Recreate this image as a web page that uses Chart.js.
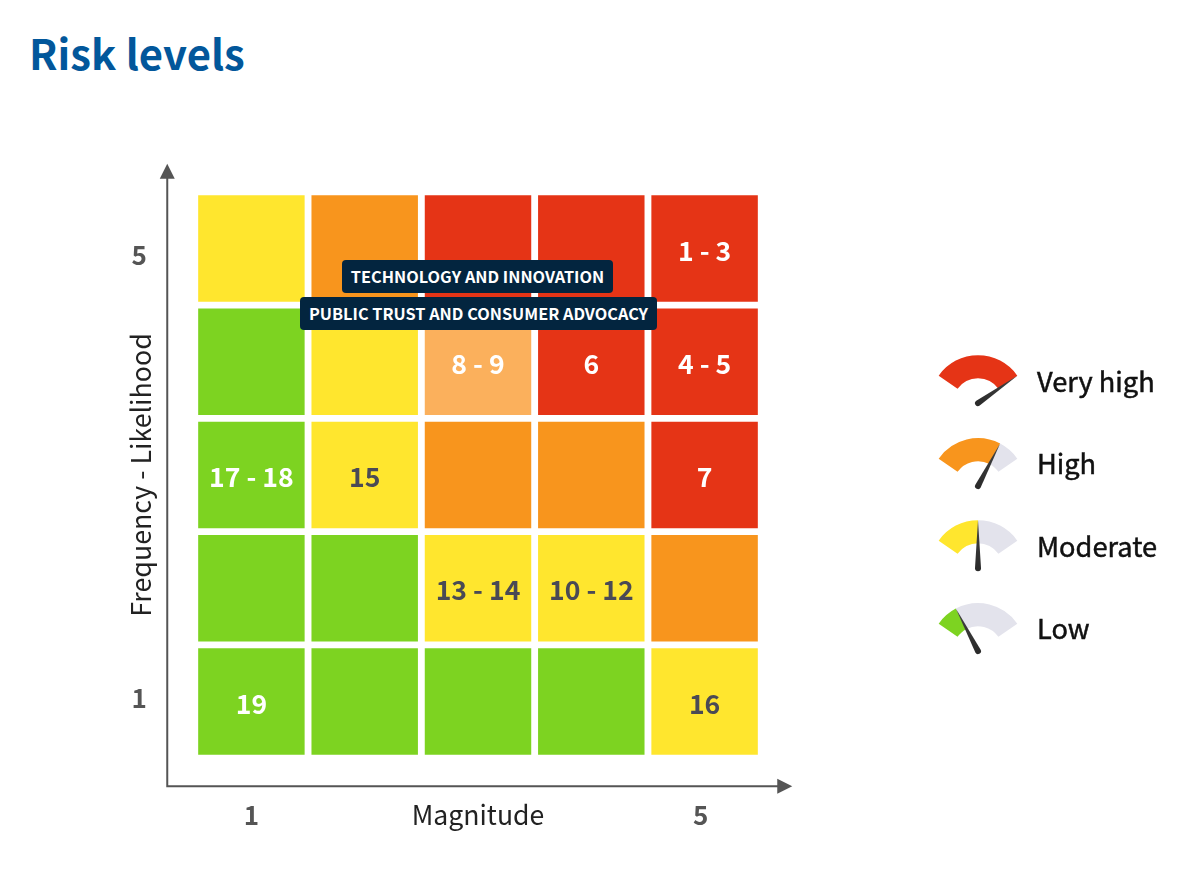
<!DOCTYPE html>
<html lang="en">
<head>
<meta charset="UTF-8">
<title>Risk levels</title>
<script src="https://cdn.jsdelivr.net/npm/chart.js@4/dist/chart.umd.min.js"></script>
<style>
  html, body { margin: 0; padding: 0; background: #fff; }
  body { width: 1200px; height: 885px; position: relative; overflow: hidden; font-family: "Noto Sans CJK SC", "Open Sans", sans-serif; }
  #chart { position: absolute; left: 0; top: 0; }
  h1 { position: absolute; left: 29px; top: 24px; margin: 0; font-size: 41.8px; line-height: 56px; font-weight: 700; color: #02579b; }
  .tag { position: absolute; box-sizing: border-box; height: 33px; line-height: 33px; text-align: center; background: #03253f; color: #fff; border-radius: 4px; font-size: 16.3px; font-weight: 700; white-space: nowrap; }
  .gauge { position: absolute; left: 918px; }
  .gauge-label { position: absolute; left: 1037px; height: 40px; line-height: 40px; font-size: 27.2px; font-weight: 400; -webkit-text-stroke: 0.5px #111; color: #111; white-space: nowrap; }
</style>
</head>
<body>
<h1>Risk levels</h1>
<canvas id="chart" width="1200" height="885"></canvas>
<div class="tag" style="left:342px;top:260px;width:271px">TECHNOLOGY AND INNOVATION</div>
<div class="tag" style="left:300px;top:297px;width:357px">PUBLIC TRUST AND CONSUMER ADVOCACY</div>
<script>
// risk matrix, top row first
const magnitudes = [1, 2, 3, 4, 5];
const likelihoods = [5, 4, 3, 2, 1];
const rowLevels = [
  ['Moderate', 'High', 'Very high', 'Very high', 'Very high'],
  ['Low', 'Moderate', 'Faded', 'Very high', 'Very high'],
  ['Low', 'Moderate', 'High', 'High', 'Very high'],
  ['Low', 'Low', 'Moderate', 'Moderate', 'High'],
  ['Low', 'Low', 'Low', 'Low', 'Moderate']
];
const rowLabels = [
  ['', '', '', '', '1 - 3'],
  ['', '', '8 - 9', '6', '4 - 5'],
  ['17 - 18', '15', '', '', '7'],
  ['', '', '13 - 14', '10 - 12', ''],
  ['19', '', '', '', '16']
];

// axis ticks sit a little off the cell centres in the original
const xTickValues = [1, 4.965];
const xTickLabels = ['1', '5'];
const yTickValues = [0.53, 4.44];
const yTickLabels = ['1', '5'];

// legend
const gaugeLevels = ['Very high', 'High', 'Moderate', 'Low'];
const gaugeValues = [100, 75, 50, 25];

const levelColors = { 'Very high': '#e53416', 'High': '#f8951d', 'Moderate': '#ffe62e', 'Low': '#7dd321', 'Faded': '#fbb05c' };
const FONT = '"Noto Sans CJK SC", "Open Sans", sans-serif';

const cells = [];
const cellColors = [];
const cellTexts = [];
const cellTextColors = [];
likelihoods.forEach((l, r) => {
  magnitudes.forEach((m, c) => {
    cells.push({ x: m, y: [l - 1, l] });
    cellColors.push(levelColors[rowLevels[r][c]]);
    cellTexts.push(rowLabels[r][c]);
    cellTextColors.push(rowLevels[r][c] === 'Moderate' ? '#4a4a55' : '#fff');
  });
});

// arrows for the two axes and the numbers inside the cells
const matrixPlugin = {
  id: 'matrixPlugin',
  afterDatasetsDraw(chart) {
    const ctx = chart.ctx;
    const area = chart.chartArea;
    const ax = area.left - 27.5, ay = area.bottom + 28;
    const topY = area.top - 28, rightX = area.right + 31;
    ctx.save();
    ctx.strokeStyle = '#555';
    ctx.fillStyle = '#555';
    ctx.lineWidth = 2;
    ctx.beginPath();
    ctx.moveTo(ax, topY + 10);
    ctx.lineTo(ax, ay);
    ctx.lineTo(rightX - 10, ay);
    ctx.stroke();
    ctx.beginPath();
    ctx.moveTo(ax, topY);
    ctx.lineTo(ax - 7.5, topY + 15);
    ctx.lineTo(ax + 7.5, topY + 15);
    ctx.closePath();
    ctx.fill();
    ctx.beginPath();
    ctx.moveTo(rightX, ay);
    ctx.lineTo(rightX - 15, ay - 7.5);
    ctx.lineTo(rightX - 15, ay + 7.5);
    ctx.closePath();
    ctx.fill();

    ctx.font = '700 26.6px ' + FONT;
    ctx.textAlign = 'center';
    ctx.textBaseline = 'middle';
    chart.getDatasetMeta(0).data.forEach((bar, i) => {
      if (!cellTexts[i]) return;
      const p = bar.getCenterPoint();
      ctx.fillStyle = cellTextColors[i];
      ctx.fillText(cellTexts[i], p.x, p.y + 2);
    });
    ctx.restore();
  }
};

new Chart(document.getElementById('chart'), {
  type: 'bar',
  data: {
    datasets: [{
      data: cells,
      backgroundColor: cellColors,
      borderColor: '#fff',
      borderWidth: 3.75,
      borderSkipped: false,
      barPercentage: 1,
      categoryPercentage: 1
    }]
  },
  options: {
    responsive: false,
    animation: false,
    devicePixelRatio: 1,
    layout: { padding: { left: 124.5, top: 191.75, right: 438.75, bottom: 53.75 } },
    plugins: { legend: { display: false }, tooltip: { enabled: false } },
    scales: {
      x: {
        type: 'linear',
        offset: false,
        min: 0.5,
        max: 5.5,
        border: { display: false },
        grid: { display: false, drawTicks: false },
        afterBuildTicks(scale) { scale.ticks = xTickValues.map(v => ({ value: v })); },
        afterFit(scale) { scale.height = 73; },
        ticks: {
          autoSkip: false,
          maxRotation: 0,
          padding: 41,
          color: '#555',
          font: { family: FONT, size: 26, weight: 700 },
          callback: (v, i) => xTickLabels[i]
        },
        title: { display: true, text: 'Magnitude', color: '#222', padding: 0, font: { family: FONT, size: 26.6, weight: 400 } }
      },
      y: {
        min: 0,
        max: 5,
        border: { display: false },
        grid: { display: false, drawTicks: false },
        afterBuildTicks(scale) { scale.ticks = yTickValues.map(v => ({ value: v })); },
        afterFit(scale) { scale.width = 70.25; },
        ticks: {
          autoSkip: false,
          padding: 48,
          color: '#555',
          font: { family: FONT, size: 26, weight: 700 },
          callback: (v, i) => yTickLabels[i]
        },
        title: { display: true, text: 'Frequency - Likelihood', color: '#222', padding: 0, font: { family: FONT, size: 26.8, weight: 400 } }
      }
    }
  },
  plugins: [matrixPlugin]
});

// needle sits on the end of the coloured arc
const needlePlugin = {
  id: 'needlePlugin',
  afterDatasetsDraw(chart) {
    const arc = chart.getDatasetMeta(0).data[0];
    const ctx = chart.ctx;
    const a = arc.endAngle;
    const r = arc.outerRadius;
    ctx.save();
    ctx.translate(arc.x, arc.y);
    ctx.rotate(a);
    const grad = ctx.createLinearGradient(0, 0, r, 0);
    grad.addColorStop(0, '#2b2b2b');
    grad.addColorStop(1, '#444');
    ctx.fillStyle = grad;
    ctx.beginPath();
    ctx.arc(0, 0, 3, Math.PI / 2, Math.PI * 1.5);
    ctx.lineTo(r, 0);
    ctx.closePath();
    ctx.fill();
    ctx.restore();
  }
};

const gaugeCentreY = [403, 486, 568, 651];
const labelCentreY = [380, 462, 545, 627];
gaugeLevels.forEach((level, i) => {
  const canvas = document.createElement('canvas');
  canvas.className = 'gauge';
  canvas.width = 120;
  canvas.height = 120;
  document.body.appendChild(canvas);
  const g = new Chart(canvas, {
    type: 'doughnut',
    data: {
      labels: [level, ''],
      datasets: [{
        data: [gaugeValues[i], 100 - gaugeValues[i]],
        backgroundColor: [levelColors[level], '#e3e3ec'],
        borderWidth: 0
      }]
    },
    options: {
      responsive: false,
      animation: false,
      devicePixelRatio: 1,
      rotation: -55,
      circumference: 110,
      radius: 48,
      cutout: '52%',
      plugins: { legend: { display: false }, tooltip: { enabled: false } }
    },
    plugins: [needlePlugin]
  });
  canvas.style.top = (gaugeCentreY[i] - g.getDatasetMeta(0).data[0].y) + 'px';

  const label = document.createElement('div');
  label.className = 'gauge-label';
  label.textContent = level;
  label.style.top = (labelCentreY[i] - 20) + 'px';
  document.body.appendChild(label);
});
</script>
</body>
</html>
